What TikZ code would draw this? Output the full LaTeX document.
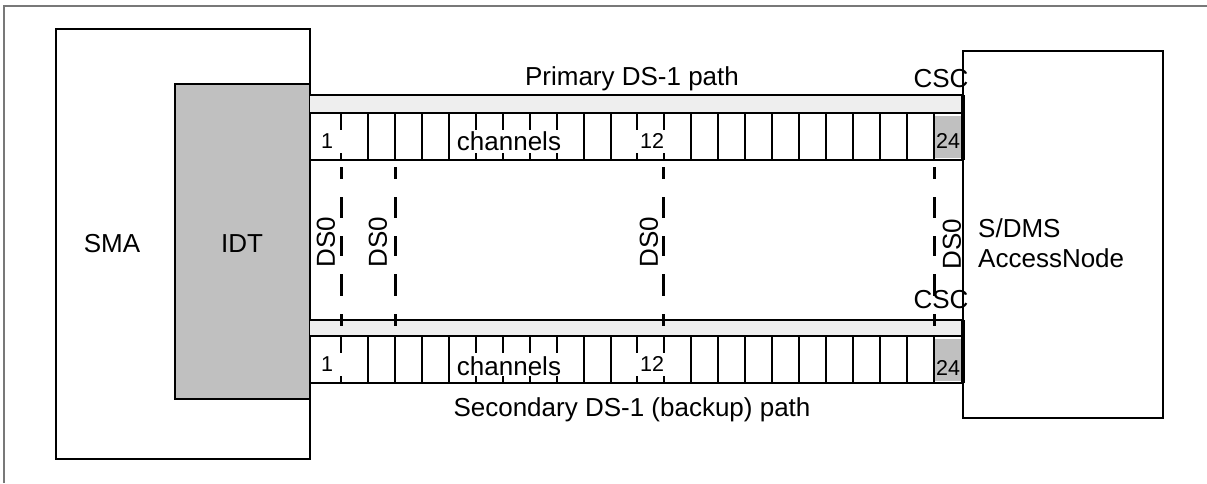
\documentclass[tikz,border=0pt]{standalone}
\usepackage{fontspec}
\setmainfont{Liberation Sans}
\definecolor{bandgray}{RGB}{238,238,238}
\definecolor{idtgray}{RGB}{192,192,192}
\definecolor{framegray}{RGB}{120,120,120}
\begin{document}
\begin{tikzpicture}[x=1pt,y=-1pt,
  big/.style={font=\fontsize{26}{30}\selectfont, inner sep=0pt},
  small/.style={font=\fontsize{21.5}{23}\selectfont, inner sep=0pt},
  boxline/.style={line width=2.8pt},
  cellline/.style={line width=2pt},
  ds0line/.style={line width=3pt, dash pattern=on 12pt off 18pt on 21pt off 18pt on 20pt off 18pt on 22pt off 18pt on 12pt},
  whitebox/.style={fill=white}
]
\useasboundingbox (0,0) rectangle (1207,483);
% outer frame (top and left only)
\draw[framegray, line width=1.4pt] (4,483) -- (4,6) -- (1207,6);
% SMA and IDT
\draw[boxline, fill=white] (56,29) rectangle (310,459);
\draw[boxline, fill=idtgray] (175,84) rectangle (310,399);
% S/DMS AccessNode box
\draw[boxline] (963,51) rectangle (1163,418);
% DS-1 paths
\foreach \t/\m/\b in {95/113/160, 320/336/383} {
  \fill[bandgray] (310,\t) rectangle (963,\m);
  \fill[idtgray] (935,\m+3) rectangle (961,\b-2);
  \foreach \k in {0,...,22}
    \draw[cellline] ({341+\k*26.95},\m) -- ({341+\k*26.95},\b);
  \draw[boxline] (310,\t) -- (963,\t);
  \draw[boxline] (310,\m) -- (963,\m);
  \draw[boxline] (310,\b) -- (963,\b);
  \draw[line width=3.2pt] (963,\t) -- (963,\b);
  \fill[whitebox] (313,\m+17) rectangle (344,\m+40);
  \fill[whitebox] (450,\m+17) rectangle (580,\m+40);
  \fill[whitebox] (634,\m+17) rectangle (666,\m+40);
}
% cell labels, primary
\node[small, anchor=base] (p1) at (327,148) {1};
\node[big, anchor=base] (pch) at (509,150) {channels};
\node[small, anchor=base] (p12) at (652,148) {12};
\node[small, anchor=base] (p24) at (948,148) {24};
% cell labels, secondary
\node[small, anchor=base] (s1) at (327,371) {1};
\node[big, anchor=base] (sch) at (509,375) {channels};
\node[small, anchor=base] (s12) at (652,371) {12};
\node[small, anchor=base] (s24) at (948,375) {24};
% DS0 dashed lines
\foreach \x/\n in {341/a, 395/b, 663/c, 934/d} {
  \coordinate (ds\n top) at (\x,167);
  \coordinate (ds\n bot) at (\x,327);
  \draw[ds0line] (ds\n top) -- (ds\n bot);
}
\node[big, rotate=90] (lds0a) at (326,242) {DS0};
\node[big, rotate=90] (lds0b) at (378,242) {DS0};
\node[big, rotate=90] (lds0c) at (649,242) {DS0};
\node[big, rotate=90] (lds0d) at (952,244) {DS0};
% texts
\node[big, anchor=base] (prim) at (632,85) {Primary DS-1 path};
\node[big, anchor=base] (sec) at (632,416) {Secondary DS-1 (backup) path};
\node[big, anchor=base] (csc1) at (941,87) {CSC};
\node[big, anchor=base] (csc2) at (941,308) {CSC};
\node[big, anchor=base] (sma) at (112,252) {SMA};
\node[big, anchor=base] (idt) at (242,252) {IDT};
\node[big, anchor=base west] (sdms) at (978,237) {S/DMS};
\node[big, anchor=base west] (accn) at (978,267) {AccessNode};
\end{tikzpicture}
\end{document}
